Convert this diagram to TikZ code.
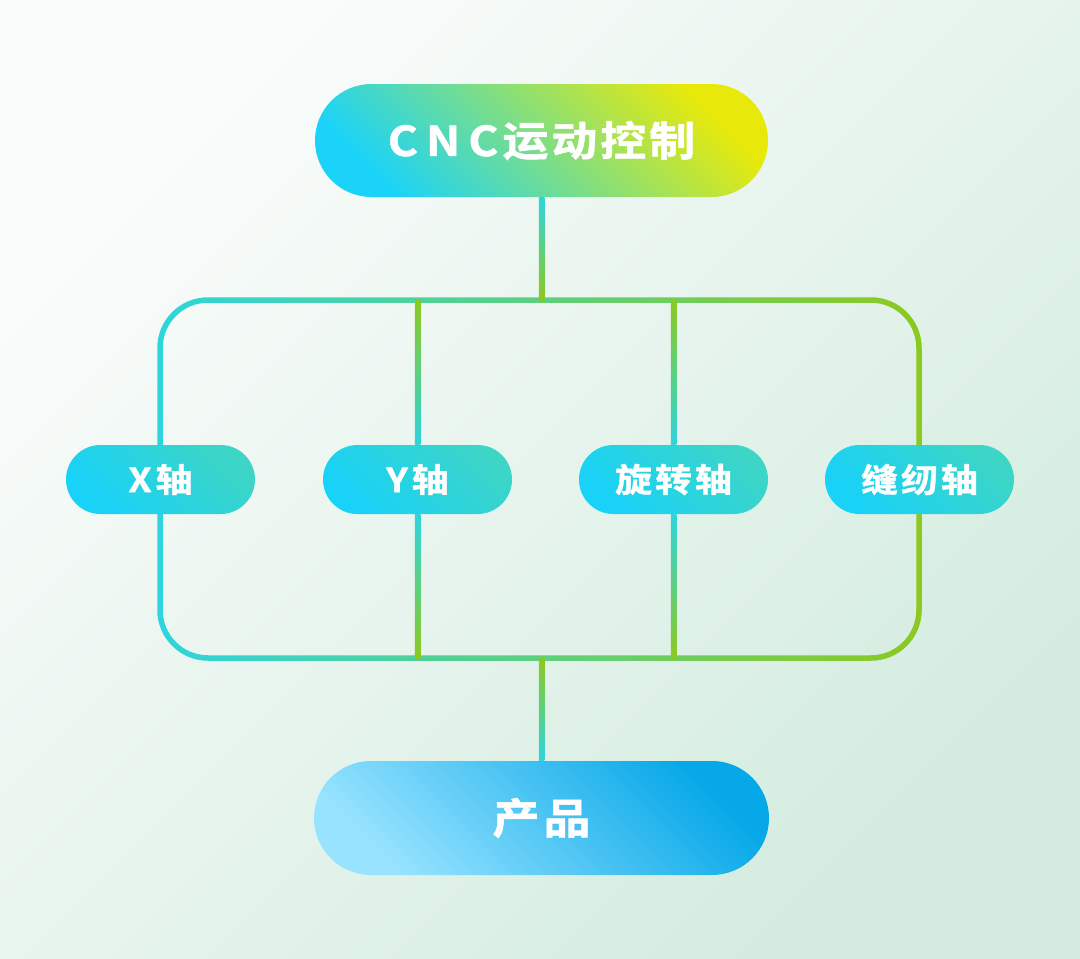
\documentclass[tikz,border=0pt]{standalone}
\usepackage{fontspec}
\usetikzlibrary{positioning, calc}
\newfontfamily\cjkbold{Noto Sans CJK SC Bold}[FakeStretch=1.12, FakeBold=1.3]
\definecolor{bgtl}{HTML}{FAFCFB}
\definecolor{bgbr}{HTML}{D3ECDF}
\definecolor{wirecyan}{HTML}{2ED5DD}
\definecolor{wiregreen}{HTML}{8CC920}
\definecolor{topcyan}{HTML}{1BD3F8}
\definecolor{topyellow}{HTML}{E8E90A}
\definecolor{axiscyan}{HTML}{18D2F8}
\definecolor{axisteal}{HTML}{3CD5C6}
\definecolor{prodlight}{HTML}{98E3FF}
\definecolor{proddeep}{HTML}{06A8E8}
\pgfdeclarelayer{bg}
\pgfdeclarelayer{wires}
\pgfsetlayers{bg,wires,main}

\begin{document}
\begin{tikzpicture}[
    x=1pt, y=-1pt,
    pill/.style={rectangle, inner sep=0pt, text=white, shading=axis},
    topbox/.style={pill, rounded corners=56.5pt,
                   minimum width=453pt, minimum height=113pt,
                   top color=topcyan, bottom color=topyellow, shading angle=135,
                   font=\cjkbold\fontsize{41}{47}\selectfont},
    axisbox/.style={pill, rounded corners=34.5pt,
                    minimum width=189pt, minimum height=69pt,
                    top color=axiscyan, bottom color=axisteal, shading angle=135,
                    font=\cjkbold\fontsize{33}{38}\selectfont},
    prodbox/.style={pill, rounded corners=57pt,
                    minimum width=455pt, minimum height=114pt,
                    top color=prodlight, bottom color=proddeep, shading angle=135,
                    font=\cjkbold\fontsize{42}{48}\selectfont},
    wiredown/.style={top color=wirecyan, bottom color=wiregreen},
    wireup/.style={top color=wiregreen, bottom color=wirecyan},
  ]
    % frame
    \useasboundingbox (0,0) rectangle (1080,959);
    \begin{pgfonlayer}{bg}
      \shade[top color=bgtl, bottom color=bgbr, shading angle=45]
        (0,0) rectangle (1080,959);
    \end{pgfonlayer}

    \coordinate (busnw) at (160,300);
    \coordinate (busse) at (919,658);

    \node[topbox] (cnc) at (541.5,140.5) {C\hspace{8pt}N\hspace{8pt}C\hspace{4pt}运\hspace{3pt}动\hspace{3pt}控\hspace{3pt}制};

    \node[axisbox] (xaxis)   at (160.5,479.5) {X\hspace{4pt}轴};
    \node[axisbox] (yaxis)   at (417.5,479.5) {Y\hspace{4pt}轴};
    \node[axisbox] (rotaxis) at (673.5,479.5) {旋\hspace{3pt}转\hspace{3pt}轴};
    \node[axisbox] (sewaxis) at (919.5,479.5) {缝\hspace{3pt}纫\hspace{3pt}轴};

    \node[prodbox] (prod) at (541.5,818) {产\hspace{4pt}品};

    % bus and connectors
    \begin{pgfonlayer}{wires}
      \shade[even odd rule, left color=wirecyan, right color=wiregreen]
        [rounded corners=50.75pt] ($(busnw)+(-2.75,-2.75)$) rectangle ($(busse)+(2.75,2.75)$)
        [rounded corners=45.25pt] ($(busnw)+(2.75,2.75)$) rectangle ($(busse)+(-2.75,-2.75)$);

      \shade[wiredown] ($(cnc.south)+(-2.75,0)$) rectangle ($(cnc.south |- busnw)+(2.75,0)$);
      \shade[wireup] ($(prod.north |- busse)+(-2.75,0)$) rectangle ($(prod.north)+(2.75,0)$);

      \foreach \ax in {yaxis, rotaxis} {
        \shade[wireup] ($(\ax.north |- busnw)+(-2.75,0)$) rectangle ($(\ax.north)+(2.75,0)$);
        \shade[wiredown] ($(\ax.south)+(-2.75,0)$) rectangle ($(\ax.south |- busse)+(2.75,0)$);
      }
    \end{pgfonlayer}
  \end{tikzpicture}
\end{document}
